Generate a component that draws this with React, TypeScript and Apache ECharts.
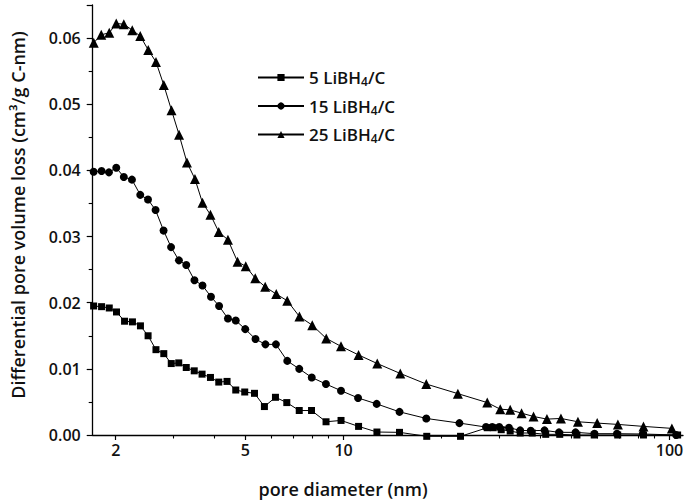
import React, { useEffect, useRef } from 'react';
import * as echarts from 'echarts';

const FONT = "'Open Sans', 'Noto Sans', sans-serif";

const seriesNames = ['5 LiBH4/C', '15 LiBH4/C', '25 LiBH4/C'];

const xMajorTicks = [2, 5, 10, 100];
const xMinorTicks = [3, 4, 6, 7, 8, 9, 20, 30, 40, 50, 60, 70, 80, 90];

const diam5 = [1.711, 1.810, 1.911, 2.011, 2.129, 2.251, 2.382, 2.514, 2.658, 2.809, 2.961, 3.122, 3.292, 3.483, 3.681, 3.906, 4.142, 4.391, 4.670, 4.976, 5.331, 5.718, 6.182, 6.697, 7.313, 7.976, 8.837, 9.824, 11.12, 12.66, 14.85, 18.0, 22.85, 27.6, 28.79, 30.46, 32.45, 34.83, 37.92, 41.71, 46.05, 52.0, 58.75, 69.36, 83.2, 105.9];
const vol5 = [0.0195, 0.0194, 0.0192, 0.0186, 0.0172, 0.0171, 0.0165, 0.0150, 0.0129, 0.0123, 0.0108, 0.0109, 0.0102, 0.0097, 0.0092, 0.0087, 0.0080, 0.0081, 0.0068, 0.0065, 0.0063, 0.0043, 0.0057, 0.0049, 0.0037, 0.0037, 0.0020, 0.0022, 0.0013, 0.00045, 0.0004, -0.0002, -0.0002, 0.0011, 0.0011, 0.0008, 0.0006, 0.0003, 0.0003, 0.0001, 0.0001, 0, 0, 0, 0, 0];

const diam15 = [1.711, 1.810, 1.907, 2.008, 2.118, 2.243, 2.379, 2.512, 2.650, 2.805, 2.957, 3.126, 3.292, 3.488, 3.692, 3.920, 4.151, 4.419, 4.670, 4.995, 5.368, 5.759, 6.203, 6.720, 7.313, 7.989, 8.831, 9.824, 11.08, 12.64, 14.85, 17.94, 22.67, 27.35, 28.59, 30.04, 32.16, 34.83, 37.52, 41.36, 45.81, 51.49, 58.88, 68.97, 82.77, 104.8];
const vol15 = [0.0398, 0.0399, 0.0397, 0.0404, 0.0390, 0.0386, 0.0363, 0.0356, 0.0340, 0.0309, 0.0284, 0.0264, 0.0257, 0.0234, 0.0226, 0.0209, 0.0195, 0.0176, 0.0173, 0.0160, 0.0145, 0.0137, 0.0137, 0.0112, 0.0100, 0.0087, 0.0077, 0.0067, 0.0056, 0.0047, 0.0035, 0.0025, 0.0018, 0.0012, 0.0012, 0.0012, 0.0011, 0.0007, 0.00065, 0.0007, 0.0004, 0.0004, 0.0002, 0.0002, 0.00015, 0];

const diam25 = [1.713, 1.806, 1.911, 2.008, 2.118, 2.248, 2.379, 2.517, 2.658, 2.809, 2.966, 3.129, 3.308, 3.501, 3.692, 3.906, 4.142, 4.419, 4.730, 5.012, 5.359, 5.750, 6.216, 6.720, 7.323, 8.017, 8.849, 9.824, 11.12, 12.69, 14.93, 17.94, 22.43, 27.60, 30.25, 32.45, 35.16, 38.27, 42.07, 46.44, 52.36, 60.0, 69.45, 83.2, 101.7];
const vol25 = [0.0593, 0.0605, 0.0608, 0.0622, 0.0621, 0.0612, 0.0603, 0.0582, 0.0564, 0.0529, 0.0491, 0.0454, 0.0412, 0.0387, 0.0351, 0.0333, 0.0307, 0.0295, 0.0262, 0.0255, 0.0237, 0.0224, 0.0213, 0.0203, 0.0179, 0.0166, 0.0146, 0.0134, 0.0121, 0.0108, 0.0093, 0.0077, 0.00625, 0.0049, 0.0039, 0.0038, 0.0033, 0.0028, 0.0024, 0.0025, 0.0020, 0.0018, 0.0016, 0.0013, 0.0010];

const zip = (xs: number[], ys: number[]) => xs.map((x, i) => [x, ys[i]]);

const seriesDefs = [
  { name: seriesNames[0], data: zip(diam5, vol5), symbol: 'rect', size: 7 },
  { name: seriesNames[1], data: zip(diam15, vol15), symbol: 'circle', size: 8 },
  { name: seriesNames[2], data: zip(diam25, vol25), symbol: 'triangle', size: 10 },
];

const axisColor = '#000';
const textColor = '#111';

export default function App() {
  const ref = useRef<HTMLDivElement>(null);
  useEffect(() => {
    document.body.style.margin = '0';
    const chart = echarts.init(ref.current!, null, { renderer: 'svg' });
    const labelStyle = { color: textColor, fontSize: 16, fontWeight: 600, fontFamily: FONT };
    const option: any = {
      animation: false,
      backgroundColor: '#fff',
      grid: { left: 92.7, right: 2, top: 5, bottom: 68, containLabel: false, outerBoundsMode: 'none' },
      xAxis: [
        {
          type: 'log', logBase: 10, min: 1.7, max: 110, position: 'bottom',
          axisLine: { show: true, lineStyle: { color: axisColor, width: 1.3 } },
          axisTick: { show: true, inside: false, length: 5, customValues: xMajorTicks, lineStyle: { color: axisColor, width: 1.2 } },
          minorTick: { show: false },
          splitLine: { show: false },
          axisLabel: { ...labelStyle, customValues: xMajorTicks, margin: 7 },
        },
        {
          type: 'log', logBase: 10, min: 1.7, max: 110, position: 'bottom',
          axisLine: { show: false },
          axisTick: { show: true, inside: false, length: 3.5, customValues: xMinorTicks, lineStyle: { color: axisColor, width: 1.1 } },
          minorTick: { show: false },
          splitLine: { show: false },
          axisLabel: { show: false },
        },
      ],
      yAxis: {
        type: 'value', min: 0, max: 0.065, interval: 0.01,
        axisLine: { show: true, onZero: false, lineStyle: { color: axisColor, width: 1.3 } },
        axisTick: { show: true, inside: false, length: 6, lineStyle: { color: axisColor, width: 1.2 } },
        minorTick: { show: true, splitNumber: 2, length: 4, lineStyle: { color: axisColor, width: 1.1 } },
        splitLine: { show: false },
        axisLabel: {
          ...labelStyle, margin: 12, showMaxLabel: false,
          formatter: (v: number) => (Math.abs(Math.round(v * 100) - v * 100) < 1e-6 ? v.toFixed(2) : ''),
        },
      },
      legend: {
        orient: 'vertical', left: 257, top: 69, padding: 0, itemWidth: 46, itemHeight: 9, itemGap: 10,
        data: seriesNames,
        formatter: (name: string) => {
          const [a, b] = name.split('H4');
          return `{n|${a}H}{s|4}{n|${b}}`;
        },
        textStyle: {
          color: textColor, fontSize: 17, fontWeight: 600, fontFamily: FONT,
          rich: {
            n: { color: textColor, fontSize: 17, fontWeight: 600, fontFamily: FONT, lineHeight: 20 },
            s: { color: textColor, fontSize: 12, fontWeight: 600, fontFamily: FONT, lineHeight: 9, verticalAlign: 'bottom' },
          },
        },
      },
      graphic: [
        {
          type: 'text', x: 343, y: 489,
          style: { text: 'pore diameter (nm)', align: 'center', verticalAlign: 'middle', fill: textColor, fontSize: 18, fontWeight: 600, fontFamily: FONT },
        },
        {
          type: 'text', x: 18, y: 215, rotation: Math.PI / 2,
          style: { text: 'Differential pore volume loss (cm³/g C-nm)', align: 'center', verticalAlign: 'middle', fill: textColor, fontSize: 18, fontWeight: 600, fontFamily: FONT },
        },
      ],
      series: seriesDefs.map((s) => ({
        type: 'line', name: s.name, data: s.data, xAxisIndex: 0,
        symbol: s.symbol, symbolSize: s.size, showSymbol: true, clip: false,
        lineStyle: { color: '#000', width: 1 },
        itemStyle: { color: '#000' },
        emphasis: { disabled: true },
      })),
    };
    chart.setOption(option);
    return () => chart.dispose();
  }, []);
  return <div ref={ref} style={{ width: 685, height: 503 }} />;
}
